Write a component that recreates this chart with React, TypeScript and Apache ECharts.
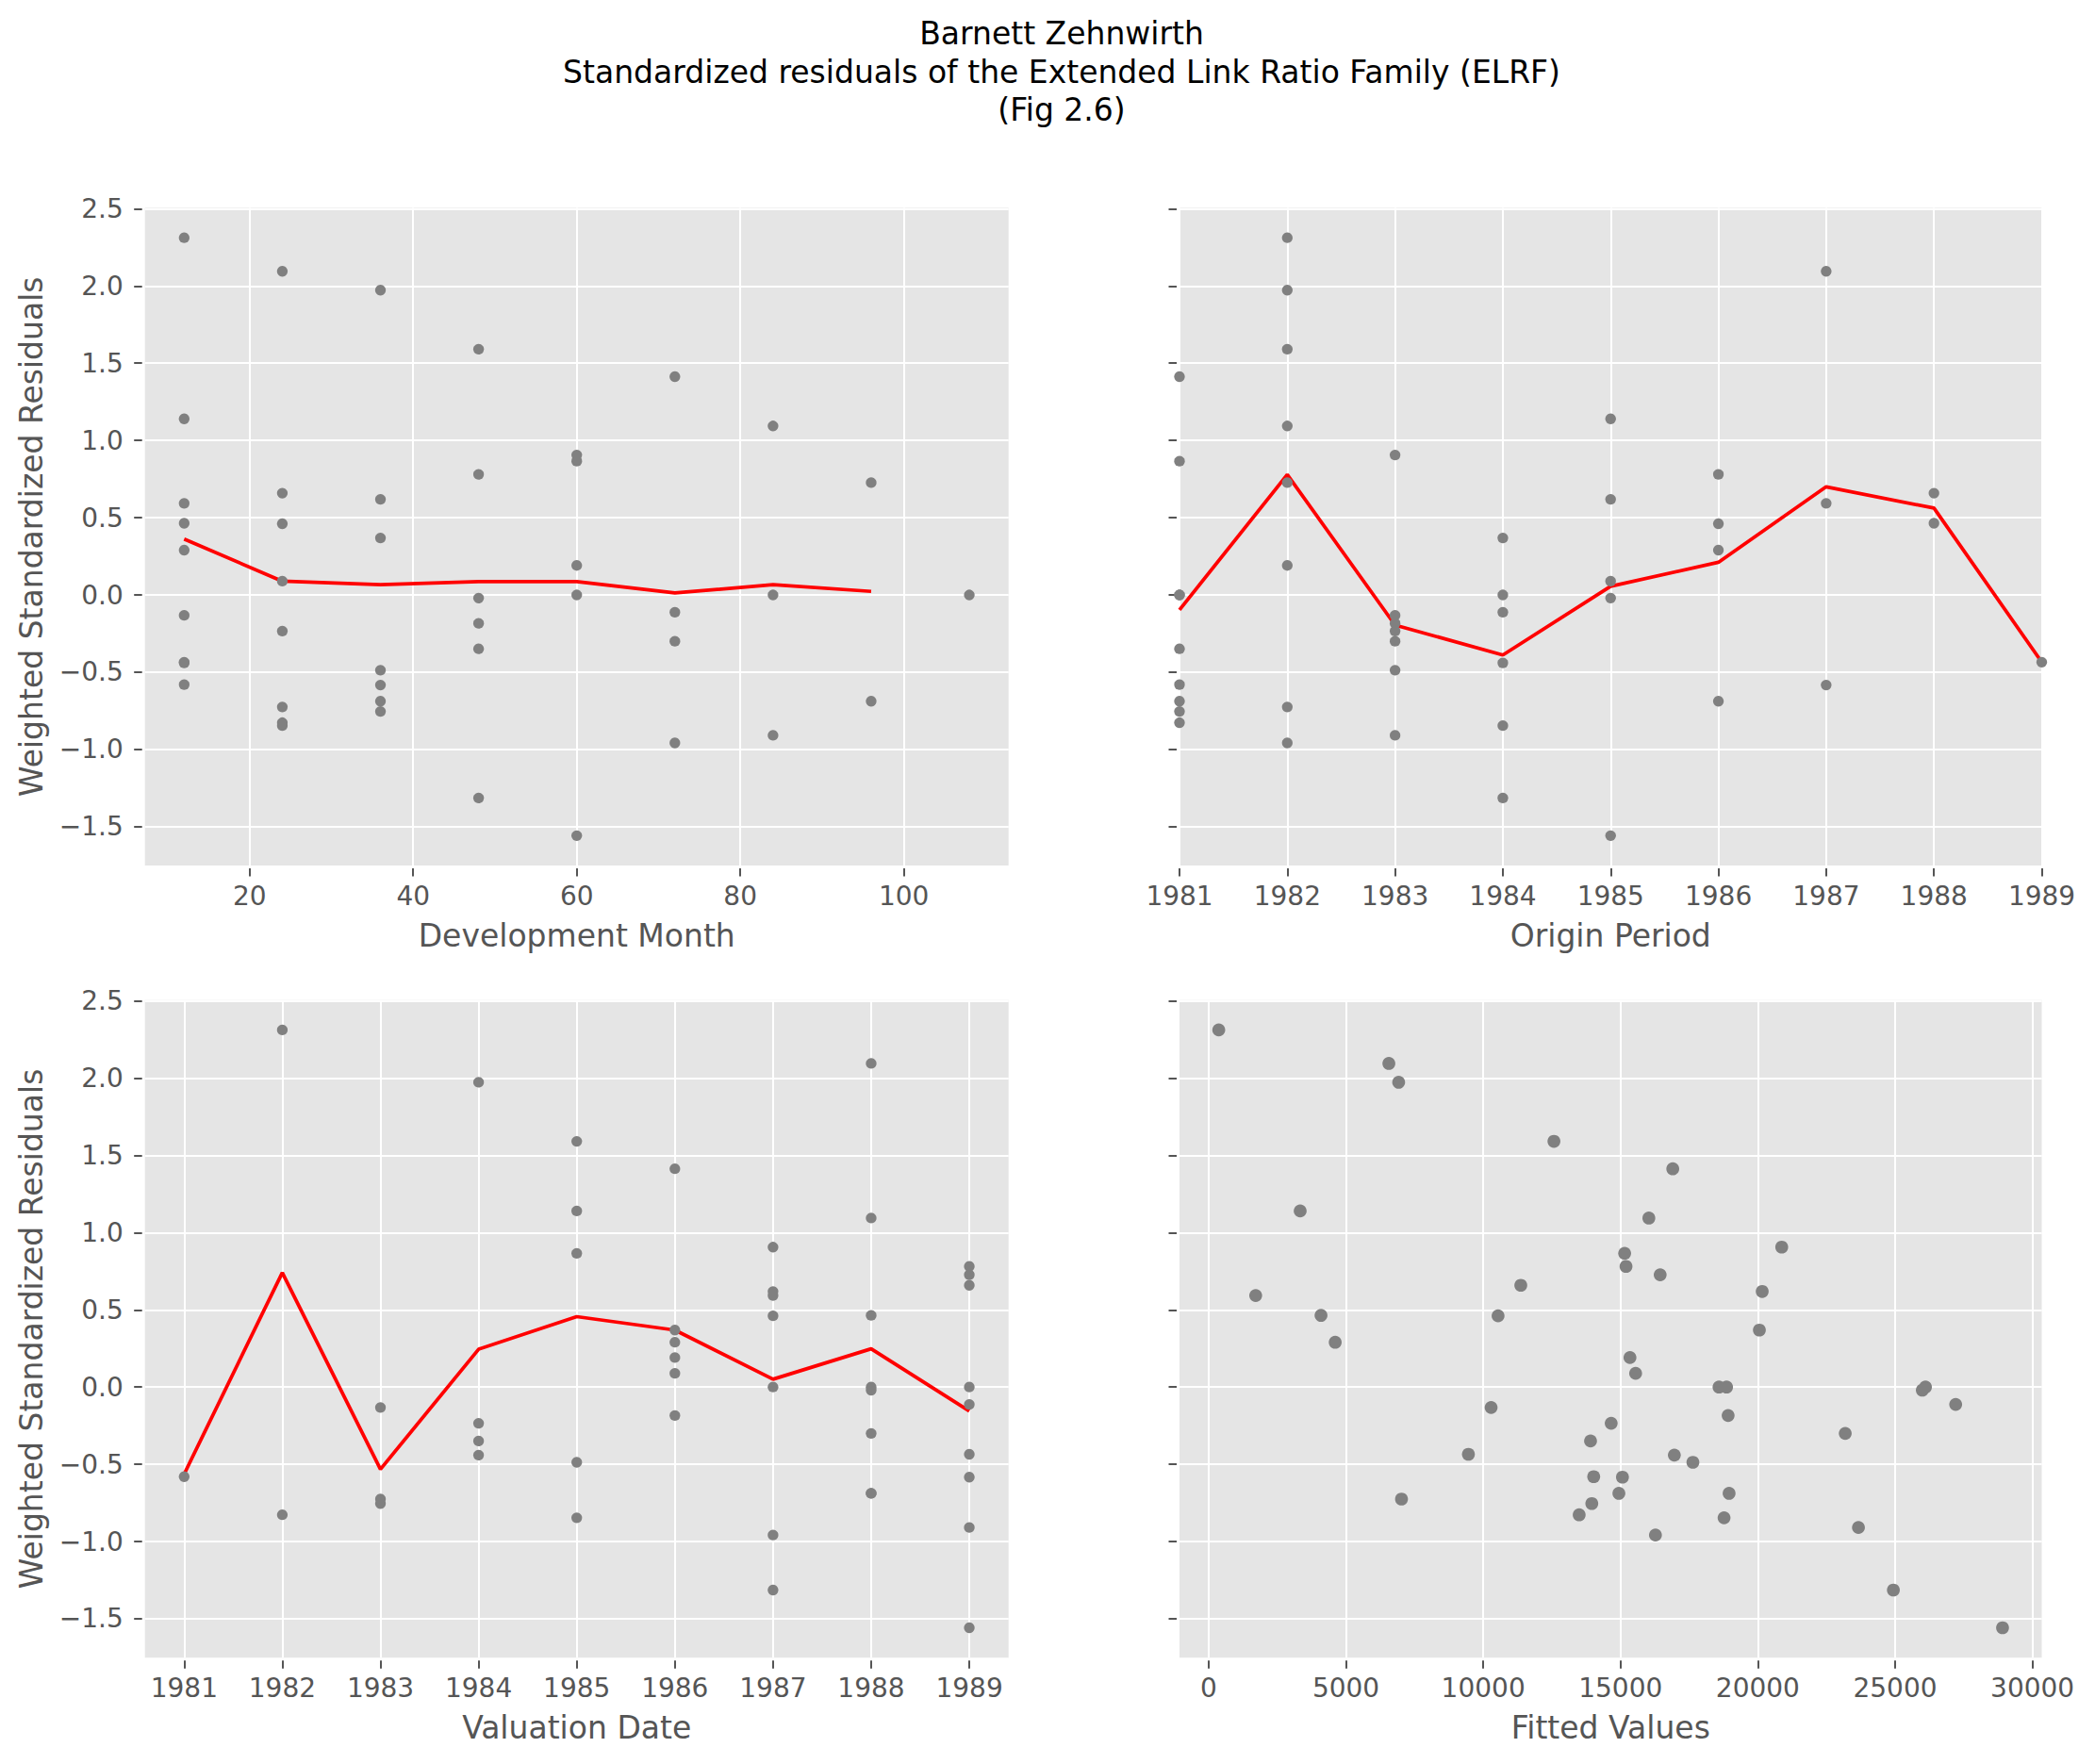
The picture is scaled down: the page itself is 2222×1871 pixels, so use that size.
import { useEffect, useRef } from "react";
import * as echarts from "echarts";

const origins = [1981, 1982, 1983, 1984, 1985, 1986, 1987, 1988, 1989];
const devMonths = [12, 24, 36, 48, 60, 72, 84, 96, 108];

// standardized residuals, one row per origin period, one column per development month
const residuals = [
  [-0.58, -0.827, -0.754, -0.349, 0.866, 1.413, 0.0, -0.688, 0.0],
  [2.312, -0.725, 1.973, 1.591, 0.191, -0.958, 1.094, 0.727],
  [-0.132, -0.234, -0.487, -0.184, 0.906, -0.3, -0.909],
  [-0.44, -0.846, 0.369, -1.314, 0.0, -0.112],
  [1.14, 0.089, 0.619, -0.02, -1.558],
  [0.29, 0.461, -0.688, 0.781],
  [0.593, 2.095, -0.583],
  [0.464, 0.659],
  [-0.435],
];

const fittedValues = [
  [14023, 13494, 13954, 13908, 15150, 16903, 18587, 18954, 18862],
  [368, 7023, 6920, 12575, 15344, 16272, 16032, 16444],
  [10287, 14660, 17636, 18919, 20871, 23184, 23665],
  [16960, 18771, 20057, 24937, 26106, 27206],
  [3333, 15550, 20160, 25991, 28913],
  [4609, 10540, 14940, 15200],
  [1713, 6563, 15070],
  [4092, 11368],
  [9460],
];

// red mean lines
const devMeanLine = [0.362, 0.089, 0.066, 0.086, 0.086, 0.013, 0.066, 0.023];
const originMeanLine = [-0.097, 0.779, -0.195, -0.389, 0.056, 0.211, 0.7, 0.562, -0.435];
const valuationYears = [1981, 1982, 1983, 1984, 1985, 1986, 1987, 1988, 1989];
const valuationMeanLine = [-0.563, 0.741, -0.532, 0.245, 0.456, 0.369, 0.051, 0.248, -0.155];

const yTicks = [-1.5, -1.0, -0.5, 0.0, 0.5, 1.0, 1.5, 2.0, 2.5];
const devTicks = [20, 40, 60, 80, 100];
const fittedTicks = [0, 5000, 10000, 15000, 20000, 25000, 30000];

const TITLE =
  "Barnett Zehnwirth\nStandardized residuals of the Extended Link Ratio Family (ELRF)\n(Fig 2.6)";
const Y_NAME = "Weighted Standardized Residuals";
const FONT = "DejaVu Sans";
const TXT = "#555555";
const DOT = "#808080";

const fmtY = (v: number) => v.toFixed(1).replace("-", "\u2212");

function xAxis(grid: number, name: string, extra: any) {
  return {
    type: "value",
    gridIndex: grid,
    offset: 3,
    name,
    nameLocation: "middle",
    nameGap: 54.5,
    nameTextStyle: { fontSize: 33, color: TXT, fontFamily: FONT },
    axisLine: { show: false, onZero: false },
    axisTick: { length: 8.5, lineStyle: { color: TXT, width: 2 }, ...(extra.ticks ? { customValues: extra.ticks } : {}) },
    axisLabel: {
      color: TXT,
      fontSize: 28,
      fontFamily: FONT,
      margin: 15,
      showMinLabel: true,
      showMaxLabel: true,
      formatter: (v: number) => String(v),
      ...(extra.ticks ? { customValues: extra.ticks } : {}),
    },
    splitLine: { lineStyle: { color: "#ffffff", width: 2 } },
    min: extra.min,
    max: extra.max,
    ...(extra.interval ? { interval: extra.interval } : {}),
  };
}

function yAxis(grid: number, withLabels: boolean) {
  return {
    type: "value",
    gridIndex: grid,
    offset: 3,
    min: -1.7515,
    max: 2.5055,
    name: withLabels ? Y_NAME : "",
    nameLocation: "middle",
    nameGap: 101,
    nameTextStyle: { fontSize: 33, color: TXT, fontFamily: FONT },
    axisLine: { show: false, onZero: false },
    axisTick: { length: 8.5, lineStyle: { color: TXT, width: 2 }, customValues: yTicks },
    axisLabel: {
      show: withLabels,
      color: TXT,
      fontSize: 28,
      fontFamily: FONT,
      margin: 20,
      formatter: fmtY,
      customValues: yTicks,
    },
    splitLine: { lineStyle: { color: "#ffffff", width: 2 } },
  };
}

export default function App() {
  const chartRef = useRef<HTMLDivElement>(null);

  useEffect(() => {
    if (!chartRef.current) return;
    document.body.style.margin = "0";
    const chart = echarts.init(chartRef.current, undefined, { renderer: "svg" });

    const byDev: number[][] = [];
    const byOrigin: number[][] = [];
    const byValuation: number[][] = [];
    const byFitted: number[][] = [];
    residuals.forEach((row, i) => {
      row.forEach((r, j) => {
        byDev.push([devMonths[j], r]);
        byOrigin.push([origins[i], r]);
        byValuation.push([origins[i] + devMonths[j] / 12 - 1, r]);
        byFitted.push([fittedValues[i][j], r]);
      });
    });

    const dots = (data: number[][], x: number, size: number) => ({
      type: "scatter",
      xAxisIndex: x,
      yAxisIndex: x,
      data,
      symbolSize: size,
      itemStyle: { color: DOT, opacity: 1 },
      z: 3,
    });
    const meanLine = (data: number[][], x: number) => ({
      type: "line",
      xAxisIndex: x,
      yAxisIndex: x,
      data,
      symbol: "none",
      lineStyle: { color: "#ff0000", width: 3.75 },
      z: 2,
    });

    const gridBase = { show: true, backgroundColor: "#E5E5E5", borderWidth: 0 };

    chart.setOption({
      animation: false,
      textStyle: { fontFamily: FONT },
      graphic: [
        {
          type: "text",
          x: 1126,
          y: 15.4,
          style: {
            text: TITLE,
            align: "center",
            verticalAlign: "top",
            fontSize: 33,
            lineHeight: 40.6,
            fontFamily: FONT,
            fill: "#000000",
          },
        },
      ],
      grid: [
        { ...gridBase, left: 153.7, top: 220.5, width: 916, height: 697.5 },
        { ...gridBase, left: 1251, top: 220.5, width: 914.5, height: 697.5 },
        { ...gridBase, left: 153.7, top: 1060.7, width: 916, height: 697.5 },
        { ...gridBase, left: 1251, top: 1060.7, width: 914.5, height: 697.5 },
      ],
      xAxis: [
        xAxis(0, "Development Month", { min: 7.2, max: 112.8, ticks: devTicks }),
        xAxis(1, "Origin Period", { min: 1981, max: 1989, interval: 1 }),
        xAxis(2, "Valuation Date", { min: 1980.6, max: 1989.4, ticks: valuationYears }),
        xAxis(3, "Fitted Values", { min: -1062, max: 30340, ticks: fittedTicks }),
      ],
      yAxis: [yAxis(0, true), yAxis(1, false), yAxis(2, true), yAxis(3, false)],
      series: [
        dots(byDev, 0, 11.3),
        meanLine(devMeanLine.map((v, i) => [devMonths[i], v]), 0),
        dots(byOrigin, 1, 11.3),
        meanLine(originMeanLine.map((v, i) => [origins[i], v]), 1),
        dots(byValuation, 2, 11.3),
        meanLine(valuationMeanLine.map((v, i) => [valuationYears[i], v]), 2),
        dots(byFitted, 3, 13.7),
      ],
    });

    return () => chart.dispose();
  }, []);

  return <div ref={chartRef} style={{ width: 2222, height: 1871 }} />;
}
